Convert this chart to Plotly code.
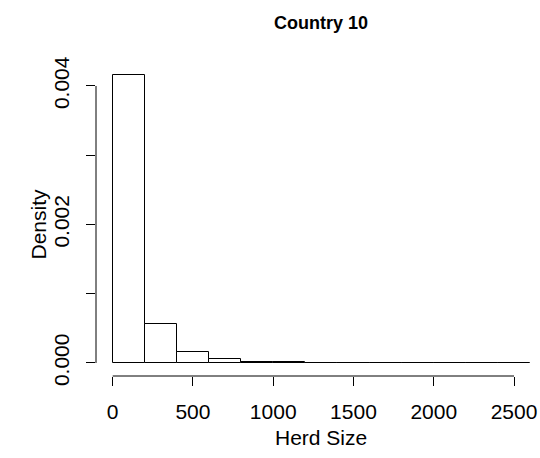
import plotly.graph_objects as go

# Histogram bins (Herd Size) and densities
bin_edges = [0, 200, 400, 600, 800, 1000, 1200, 1400, 1600, 1800, 2000, 2200, 2400, 2600]
densities = [0.00416, 0.000565, 0.000155, 0.000053, 0.000011, 0.000008,
             0.000004, 0.000003, 0.000002, 0.000002, 0.000001, 0.000001, 0.000001]
x_ticks = [0, 500, 1000, 1500, 2000, 2500]
y_ticks = [0.000, 0.001, 0.002, 0.003, 0.004]
y_ticklabels = ["0.000", "", "0.002", "", "0.004"]
title = "Country 10"
x_label = "Herd Size"
y_label = "Density"

centers = [(a + b) / 2 for a, b in zip(bin_edges[:-1], bin_edges[1:])]
widths = [b - a for a, b in zip(bin_edges[:-1], bin_edges[1:])]

FONT = "Liberation Sans, Arial, sans-serif"

fig = go.Figure()
fig.add_trace(go.Bar(
    x=centers, y=densities, width=widths,
    marker=dict(color="white", line=dict(color="black", width=1)),
    showlegend=False,
))

span = bin_edges[-1] - bin_edges[0]
fig.update_layout(
    width=540, height=458,
    margin=dict(l=96, r=0, t=60, b=82),
    paper_bgcolor="white", plot_bgcolor="white",
    font=dict(family=FONT, color="black", size=21),
    bargap=0,
    xaxis=dict(
        range=[bin_edges[0] - 0.04 * span, 2662],
        tickvals=x_ticks, ticktext=[str(v) for v in x_ticks],
        ticks="outside", ticklen=9, tickwidth=1, tickcolor="black",
        showline=False, showgrid=False, zeroline=False,
        ticklabelstandoff=8,
        tickfont=dict(size=21, family=FONT, color="black"),
    ),
    yaxis=dict(
        range=[-0.000188, 0.004375],
        tickvals=y_ticks, ticktext=y_ticklabels,
        ticks="outside", ticklen=9, tickwidth=1, tickcolor="black",
        showline=False, showgrid=False, zeroline=False,
        tickangle=-90, ticklabelstandoff=9,
        tickfont=dict(size=21, family=FONT, color="black"),
    ),
    shapes=[
        dict(type="line", xref="x", yref="paper", x0=x_ticks[0], x1=x_ticks[-1], y0=0, y1=0,
             line=dict(color="black", width=1)),
        dict(type="line", xref="paper", yref="y", x0=0, x1=0, y0=y_ticks[0], y1=y_ticks[-1],
             line=dict(color="black", width=1)),
    ],
    annotations=[
        dict(text="<b>" + title + "</b>", xref="x", yref="paper",
             x=(bin_edges[0] + bin_edges[-1]) / 2, y=1, yshift=37,
             showarrow=False, font=dict(size=18, family=FONT, color="black"),
             xanchor="center", yanchor="middle"),
        dict(text=x_label, xref="x", yref="paper",
             x=(bin_edges[0] + bin_edges[-1]) / 2, y=0, yshift=-61,
             showarrow=False, font=dict(size=21, family=FONT, color="black"),
             xanchor="center", yanchor="middle"),
        dict(text=y_label, xref="paper", yref="y",
             x=0, xshift=-58, y=0.002,
             showarrow=False, textangle=-90, font=dict(size=21, family=FONT, color="black"),
             xanchor="center", yanchor="middle"),
    ],
)

fig.write_html("out.html")
